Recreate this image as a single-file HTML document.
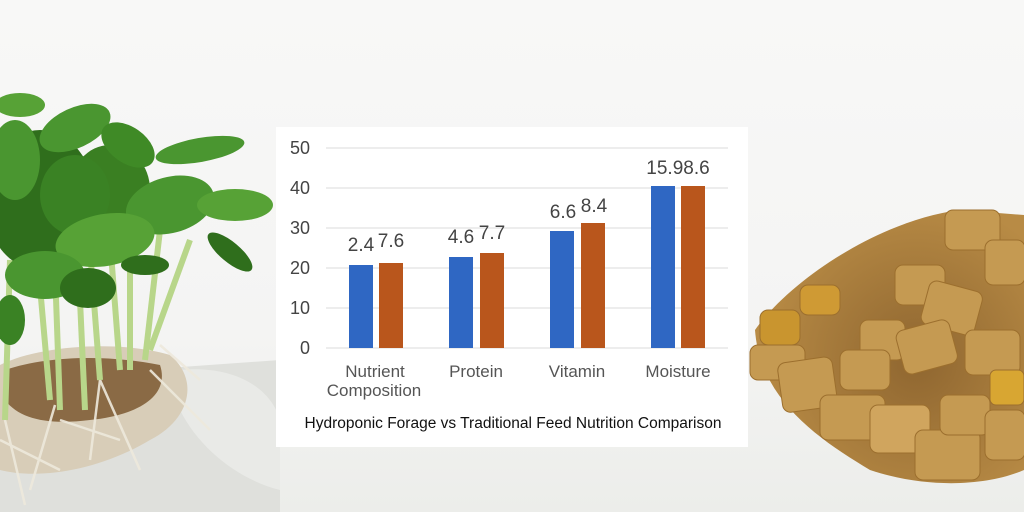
<!DOCTYPE html>
<html><head><meta charset="utf-8"><style>
html,body{margin:0;padding:0;width:1024px;height:512px;overflow:hidden;background:#f6f6f5}
svg{display:block}
text{font-family:"Liberation Sans","DejaVu Sans",sans-serif}
</style></head><body>
<svg width="1024" height="512" viewBox="0 0 1024 512" xmlns="http://www.w3.org/2000/svg">
<defs>
<linearGradient id="bg" x1="0" y1="0" x2="0" y2="1">
<stop offset="0" stop-color="#f8f8f7"/><stop offset="0.65" stop-color="#f4f4f3"/><stop offset="1" stop-color="#ecedea"/>
</linearGradient>
<radialGradient id="pile" cx="0.6" cy="0.55" r="0.6">
<stop offset="0" stop-color="#8f6630"/><stop offset="1" stop-color="#b88b45"/>
</radialGradient>
</defs>
<rect width="1024" height="512" fill="url(#bg)"/>
<!-- table left -->
<path d="M0 380 L280 360 L280 512 L0 512Z" fill="#dfe0dc"/>
<path d="M180 370 C230 365 270 385 280 420 L280 490 C240 480 200 450 180 410Z" fill="#ebecea" opacity="0.8"/>
<!-- roots mat -->
<path d="M0 365 C40 345 120 340 170 355 C200 380 190 420 150 440 C100 470 40 480 0 470Z" fill="#d8cdb8"/>
<path d="M5 370 C50 355 110 355 160 365 C170 395 140 415 90 420 C50 425 20 420 5 400Z" fill="#8a6a45"/>
<g stroke="#eee9dc" stroke-width="2.5" fill="none" opacity="0.9">
<path d="M5 420 L25 505"/><path d="M55 405 L30 490"/><path d="M100 380 L140 470"/><path d="M100 380 L90 460"/><path d="M160 345 L200 380"/><path d="M150 370 L210 430"/><path d="M60 420 L120 440"/><path d="M0 440 L60 470"/>
</g>
<!-- stems -->
<g stroke="#b8d68a" stroke-width="6" fill="none">
<path d="M10 260 L5 420"/><path d="M35 230 L50 400"/><path d="M55 270 L60 410"/><path d="M90 250 L100 380"/><path d="M110 240 L120 370"/><path d="M130 230 L130 370"/><path d="M160 230 L145 360"/><path d="M190 240 L150 350"/><path d="M80 300 L85 410"/>
</g>
<!-- leaves -->
<g fill="#3f8a26">
<ellipse cx="40" cy="200" rx="55" ry="70" fill="#2f6e1c"/>
<ellipse cx="110" cy="190" rx="40" ry="45" fill="#3a7f22"/>
<ellipse cx="75" cy="128" rx="38" ry="20" transform="rotate(-25 75 128)" fill="#4a9630"/>
<ellipse cx="128" cy="145" rx="30" ry="18" transform="rotate(35 128 145)"/>
<ellipse cx="200" cy="150" rx="45" ry="12" transform="rotate(-10 200 150)" fill="#4a9630"/>
<ellipse cx="75" cy="195" rx="35" ry="40" fill="#3a8224"/>
<ellipse cx="170" cy="205" rx="45" ry="28" transform="rotate(-15 170 205)" fill="#4a9630"/>
<ellipse cx="235" cy="205" rx="38" ry="16" fill="#57a236"/>
<ellipse cx="230" cy="252" rx="28" ry="10" transform="rotate(40 230 252)" fill="#2f6e1c"/>
<ellipse cx="105" cy="240" rx="50" ry="26" transform="rotate(-10 105 240)" fill="#57a236"/>
<ellipse cx="45" cy="275" rx="40" ry="24" fill="#4a9630"/>
<ellipse cx="88" cy="288" rx="28" ry="20" fill="#2f6e1c"/>
<ellipse cx="145" cy="265" rx="24" ry="10" fill="#2f6e1c"/>
<ellipse cx="15" cy="160" rx="25" ry="40" fill="#4a9630"/>
<ellipse cx="10" cy="320" rx="15" ry="25" fill="#3a8224"/>
<ellipse cx="20" cy="105" rx="25" ry="12" fill="#57a236"/>
</g>
<!-- pellets -->
<path d="M755 330 C790 280 880 220 960 210 L1024 215 L1024 470 C990 485 930 490 870 470 C820 440 760 400 755 330Z" fill="url(#pile)"/>
<g fill="#c59a52" stroke="#9c6f2e" stroke-width="1">
<rect x="945" y="210" width="55" height="40" rx="8"/>
<rect x="895" y="265" width="50" height="40" rx="8"/>
<rect x="925" y="285" width="55" height="45" rx="8" transform="rotate(15 950 305)"/>
<rect x="985" y="240" width="40" height="45" rx="8"/>
<rect x="860" y="320" width="45" height="40" rx="8"/>
<rect x="900" y="325" width="55" height="45" rx="8" transform="rotate(-15 925 350)"/>
<rect x="965" y="330" width="55" height="45" rx="8"/>
<rect x="760" y="310" width="40" height="35" rx="8" fill="#c9952f"/>
<rect x="750" y="345" width="55" height="35" rx="8"/>
<rect x="780" y="360" width="55" height="50" rx="8" transform="rotate(-8 805 385)"/>
<rect x="820" y="395" width="65" height="45" rx="8"/>
<rect x="870" y="405" width="60" height="48" rx="8" fill="#d0a55e"/>
<rect x="915" y="430" width="65" height="50" rx="8"/>
<rect x="940" y="395" width="50" height="40" rx="8"/>
<rect x="985" y="410" width="40" height="50" rx="8"/>
<rect x="990" y="370" width="34" height="35" rx="6" fill="#d8a632"/>
<rect x="840" y="350" width="50" height="40" rx="8"/>
<rect x="800" y="285" width="40" height="30" rx="8" fill="#cf9a34"/>
</g>
<!-- chart panel -->
<rect x="276" y="127" width="472" height="320" fill="#ffffff"/>
<g stroke="#e2e2e2" stroke-width="1.3">
<line x1="326" y1="148" x2="728" y2="148"/><line x1="326" y1="188" x2="728" y2="188"/>
<line x1="326" y1="228" x2="728" y2="228"/><line x1="326" y1="268" x2="728" y2="268"/>
<line x1="326" y1="308" x2="728" y2="308"/><line x1="326" y1="348" x2="728" y2="348"/>
</g>
<g font-size="18" fill="#444" text-anchor="end">
<text x="310" y="154">50</text><text x="310" y="194">40</text><text x="310" y="234">30</text>
<text x="310" y="274">20</text><text x="310" y="314">10</text><text x="310" y="354">0</text>
</g>
<g fill="#2f67c3">
<rect x="349" y="265" width="24" height="83"/><rect x="449" y="257" width="24" height="91"/>
<rect x="550" y="231" width="24" height="117"/><rect x="651" y="186" width="24" height="162"/>
</g>
<g fill="#b9561c">
<rect x="379" y="263" width="24" height="85"/><rect x="480" y="253" width="24" height="95"/>
<rect x="581" y="223" width="24" height="125"/><rect x="681" y="186" width="24" height="162"/>
</g>
<g font-size="19" fill="#444" text-anchor="middle">
<text x="361" y="251">2.4</text><text x="391" y="247">7.6</text>
<text x="461" y="243">4.6</text><text x="492" y="239">7.7</text>
<text x="563" y="218">6.6</text><text x="594" y="212">8.4</text>
<text x="678" y="174">15.98.6</text>
</g>
<g font-size="17" fill="#555" text-anchor="middle">
<text x="375" y="377">Nutrient</text><text x="374" y="396">Composition</text>
<text x="476" y="377">Protein</text><text x="577" y="377">Vitamin</text><text x="678" y="377">Moisture</text>
</g>
<text x="513" y="428" font-size="15.5" fill="#111" text-anchor="middle">Hydroponic Forage vs Traditional Feed Nutrition Comparison</text>
</svg>
</body></html>
